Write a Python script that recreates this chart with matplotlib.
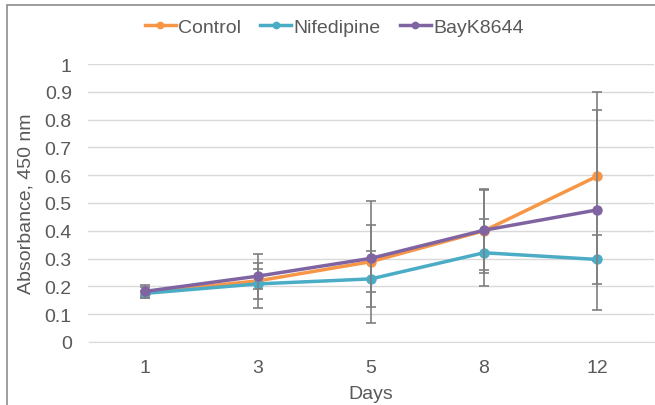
import numpy as np
import matplotlib
matplotlib.use("Agg")
import matplotlib.pyplot as plt
from matplotlib.patches import Rectangle

plt.rcParams['font.family'] = ['Liberation Sans', 'DejaVu Sans']

days = ['1', '3', '5', '8', '12']
control = [0.178, 0.220, 0.289, 0.400, 0.596]
control_err = [0.021, 0.098, 0.219, 0.150, 0.305]
nifedipine = [0.175, 0.209, 0.227, 0.321, 0.297]
nifedipine_err = [0.010, 0.055, 0.100, 0.120, 0.087]
bayk = [0.182, 0.237, 0.301, 0.402, 0.475]
bayk_err = [0.024, 0.048, 0.120, 0.143, 0.360]

grey = '#595959'
fs = 14
fig = plt.figure(figsize=(6.55, 4.06), dpi=100)
ax = fig.add_axes([88.5/655, 1 - 343/406, 565/655, 278/406])

x = np.arange(len(days))
series = [('Control', control, control_err, '#F79646'),
          ('Nifedipine', nifedipine, nifedipine_err, '#4BACC6'),
          ('BayK8644', bayk, bayk_err, '#8064A2')]

for i, (name, vals, err, col) in enumerate(series):
    ax.errorbar(x, vals, yerr=err, fmt='none', ecolor='#7f7f7f', elinewidth=1.2,
                capsize=3.5, capthick=1.2, zorder=2 + i * 2)
    ax.plot(x, vals, color=col, lw=2.5, marker='o', ms=6.5, label=name, zorder=3 + i * 2)

ax.set_xlim(-0.5, len(days) - 0.5)
ax.set_ylim(0, 1)
ax.set_yticks(np.arange(0, 1.01, 0.1))
ax.set_yticklabels(['0', '0.1', '0.2', '0.3', '0.4', '0.5', '0.6', '0.7', '0.8', '0.9', '1'])
ax.set_xticks(x)
ax.set_xticklabels(days)
ax.grid(axis='y', color='#d9d9d9', lw=1)
ax.set_axisbelow(True)
for s in ['top', 'right', 'left']:
    ax.spines[s].set_visible(False)
ax.spines['bottom'].set_color('#d9d9d9')
ax.tick_params(length=0, labelsize=fs, colors=grey)
ax.tick_params(axis='y', pad=12)
ax.tick_params(axis='x', pad=12)
ax.set_xlabel('Days', fontsize=fs, color=grey, labelpad=7)
ax.set_ylabel('Absorbance, 450 nm', fontsize=fs, color=grey, labelpad=7)

ax.legend(loc='center', bbox_to_anchor=(0.51, 1 - 28/406), bbox_transform=fig.transFigure,
          ncol=3, frameon=False, fontsize=fs, labelcolor=grey, handlelength=1.6,
          handletextpad=0.1, columnspacing=1.0, markerscale=0.7)

fig.patches.append(Rectangle((7/655, -0.1), 1.0, 1 - 6/406 + 0.1, transform=fig.transFigure,
                             fill=False, edgecolor='#8c8c8c', lw=1.2))

fig.savefig('out.png', dpi=100)
